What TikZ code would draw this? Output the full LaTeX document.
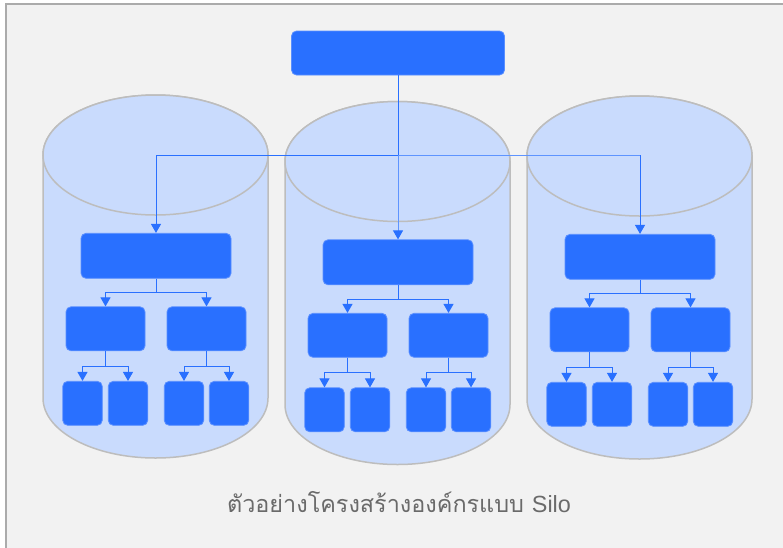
\documentclass[tikz,border=0pt]{standalone}
\usepackage{fontspec}
\usetikzlibrary{arrows.meta}
\newfontfamily\thaifont[Script=Thai]{Loma}
\newfontfamily\latinfont{Liberation Sans}

\definecolor{pagebg}{HTML}{F2F2F2}
\definecolor{framegray}{HTML}{ABABAB}
\definecolor{cylfill}{HTML}{C9DBFD}
\definecolor{cylline}{HTML}{BDBDBD}
\definecolor{boxblue}{HTML}{2970FF}
\definecolor{boxedge}{HTML}{5A8FFF}
\definecolor{linkblue}{HTML}{2970FF}
\definecolor{linklight}{HTML}{5E94FF}
\definecolor{captiongray}{HTML}{6A6A6A}

\tikzset{
  cyl/.style={fill=cylfill, draw=cylline, line width=1.5pt},
  orgbox/.style={rectangle, rounded corners=5pt, fill=boxblue, draw=boxedge,
                 line width=0.8pt, inner sep=0pt},
  headbox/.style={orgbox, minimum width=213pt, minimum height=44pt},
  lvlone/.style={orgbox, minimum width=150pt, minimum height=45pt},
  lvltwo/.style={orgbox, minimum width=79pt, minimum height=44pt},
  lvlthree/.style={orgbox, minimum width=39.5pt, minimum height=44pt},
  link/.style={draw=linkblue, line width=1pt},
  softlink/.style={draw=linklight, line width=1pt},
  arr/.style={link, -{Triangle[width=10pt,length=9pt]}},
  softarr/.style={softlink, -{Triangle[width=10pt,length=9pt,color=linkblue]}},
  caption/.style={text=captiongray, font=\fontsize{23.4}{28}\selectfont, inner sep=0pt}
}

% One silo: cylinder with a three-level hierarchy inside.
% #1 = name prefix, #2 = horizontal shift, #3 = vertical shift
\newcommand\orgsilo[3]{%
  \begin{scope}[shift={(#2,#3)}]
    \path[cyl] (43,155) -- (43,398)
      arc[start angle=180, end angle=0, x radius=112.5, y radius=60]
      -- (268,155)
      arc[start angle=0, end angle=-180, x radius=112.5, y radius=60] -- cycle;
    \draw[cyl] (155.5,155) ellipse [x radius=112.5, y radius=60];
    \node[lvlone] (#1-a) at (156,255.8) {};
    \node[lvltwo] (#1-b1) at (105.5,328.8) {};
    \node[lvltwo] (#1-b2) at (206.5,328.8) {};
    \node[lvlthree] (#1-c1) at (82.5,403.3) {};
    \node[lvlthree] (#1-c2) at (128,403.3) {};
    \node[lvlthree] (#1-c3) at (184,403.3) {};
    \node[lvlthree] (#1-c4) at (229,403.3) {};
    \draw[arr] (#1-a.south) -- ++(0,14) -| (#1-b1.north);
    \draw[arr] (#1-a.south) -- ++(0,14) -| (#1-b2.north);
    \draw[arr] (#1-b1.south) -- ++(0,15) -| (#1-c1.north);
    \draw[arr] (#1-b1.south) -- ++(0,15) -| (#1-c2.north);
    \draw[arr] (#1-b2.south) -- ++(0,15) -| (#1-c3.north);
    \draw[arr] (#1-b2.south) -- ++(0,15) -| (#1-c4.north);
  \end{scope}%
}

\begin{document}
\begin{tikzpicture}[x=1pt, y=-1pt]
  \useasboundingbox (0,0) rectangle (783,547);
  \fill[white] (0,0) rectangle (783,547);
  \draw[fill=pagebg, draw=framegray, line width=2pt] (6,4) rectangle (800,565);

  \orgsilo{L}{0}{0}
  \orgsilo{M}{242}{6.5}
  \orgsilo{R}{484}{1}

  \node[headbox] (top) at (398,53) {};
  \coordinate (hub) at (398,155);
  \coordinate (rturn) at (640,155);

  \draw[softarr] (hub) -- (M-a.north);
  \draw[softlink] (hub) -- (rturn);
  \draw[arr] (rturn) -- (R-a.north);
  \draw[link] (top.south) -- (hub);
  \draw[arr] (hub) -| (L-a.north);

  \node[caption] (cap) at (399,502)
    {\thaifont ตัวอย่างโครงสร้างองค์กรแบบ \latinfont Silo};
\end{tikzpicture}
\end{document}
